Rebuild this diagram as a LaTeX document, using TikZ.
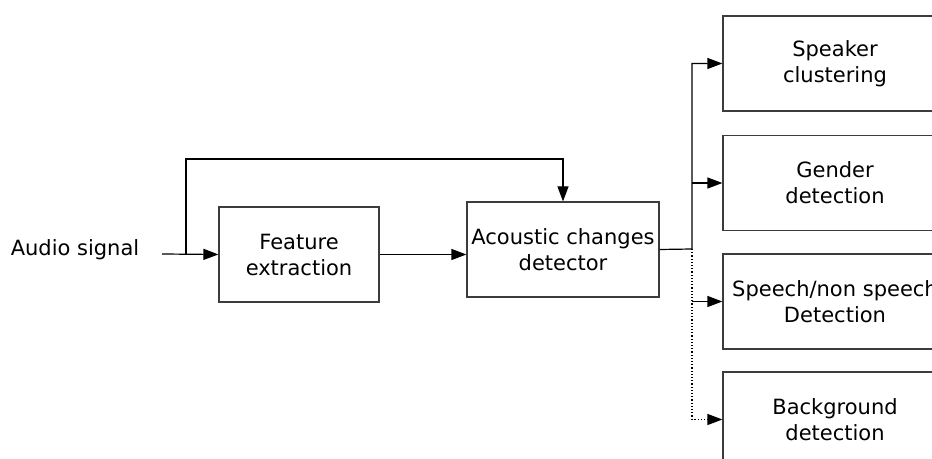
\documentclass[tikz,border=0pt]{standalone}
\usepackage{fontspec}
\setmainfont{DejaVu Sans}
\usepackage{tikz}
\usetikzlibrary{positioning, arrows.meta}
\definecolor{ink}{HTML}{000000}
\definecolor{frame}{HTML}{3C3C3C}

\begin{document}
\begin{tikzpicture}[
  x=0.5pt, y=-0.5pt,
  every node/.style={font=\fontsize{10.5pt}{13pt}\selectfont, align=center, inner sep=1pt},
  block/.style={rectangle, draw=frame, line width=0.6pt, minimum width=80pt, minimum height=47.5pt},
  outbox/.style={block, minimum width=112pt},
  >={Triangle[length=7.5pt,width=5.5pt]}, line width=0.6pt
]
  \useasboundingbox (0,0) rectangle (932,459);
  \clip (0,0) rectangle (932,459);
  \node (audio) at (75,250) {Audio signal};
  \node[block] (F) at (299,254.5) {Feature\\extraction};
  \node[block, minimum width=96pt] (D) at (563,249.5) {Acoustic changes\\detector};
  \node[outbox] (spk) at (835,63.5) {Speaker\\clustering};
  \node[outbox] (gen) at (835,183) {Gender\\detection};
  \node[outbox] (sns) at (835,301.5) {Speech/non speech\\Detection};
  \node[outbox] (bg) at (835,419.5) {Background\\detection};
  \coordinate (in) at (162,254);
  \coordinate (split) at (186,254);
  \coordinate (bus) at (692,249);
  \draw[->] (in) -- (F.west);
  \draw[->] (split) -- ++(0,-95) -| (D.north);
  \draw[->] (F.east) -- (F.east -| D.west);
  \draw[->] (D.east) -- (bus) |- (spk.west);
  \draw[->] (bus |- gen.west) -- (gen.west);
  \draw[->] (bus |- sns.west) -- (sns.west);
  \draw[->, densely dotted] (bus) |- (bg.west);
\end{tikzpicture}
\end{document}
